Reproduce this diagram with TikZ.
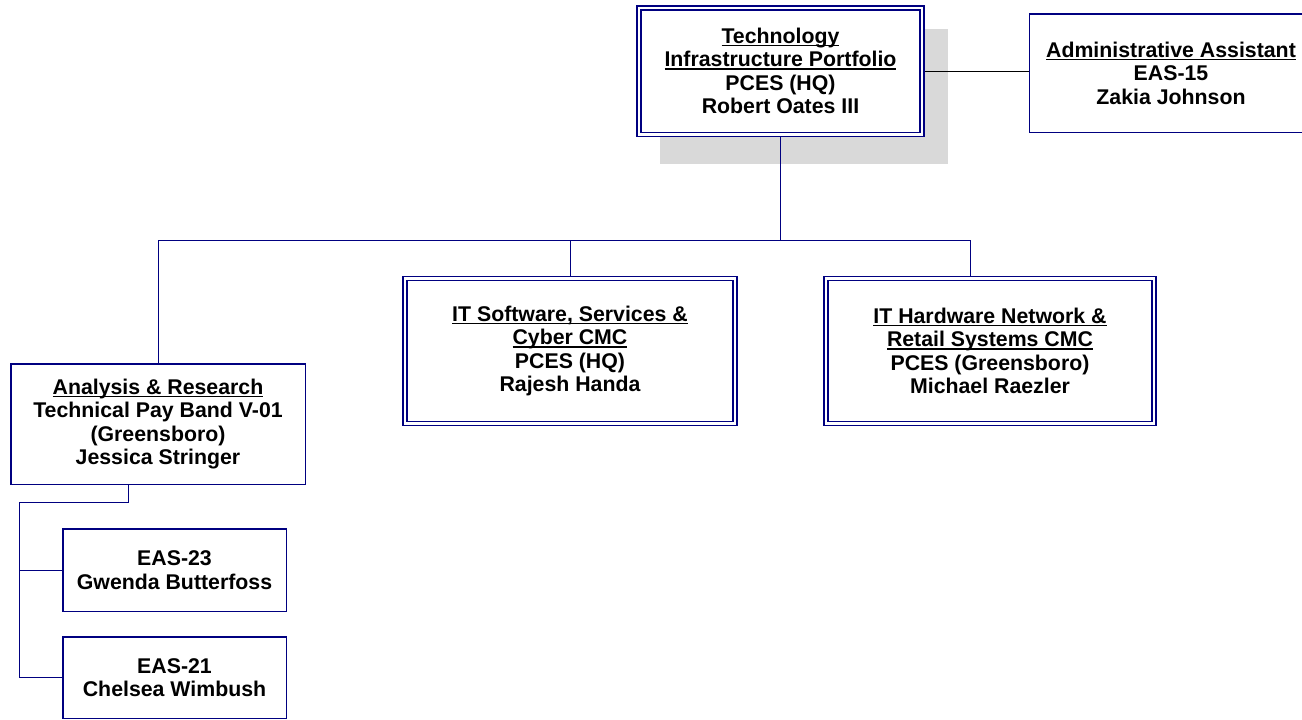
\documentclass[tikz,border=0pt]{standalone}
\usepackage{fontspec}
\setmainfont{Liberation Sans}
\usetikzlibrary{backgrounds}
\definecolor{unitblue}{RGB}{0,0,128}
\definecolor{dropgray}{RGB}{217,217,217}
\newsavebox{\titlebox}
\newcommand{\titleline}[1]{\sbox{\titlebox}{#1}\rlap{\rule[-2.8pt]{\wd\titlebox}{1.4pt}}\usebox{\titlebox}}

\begin{document}
\begin{tikzpicture}[x=1pt, y=-1pt, line width=1.5pt]
	\tikzset{
		unit/.style={rectangle, draw=unitblue, fill=white, inner sep=0pt, align=center,
			font=\fontsize{21.3}{23.5}\selectfont\bfseries},
		cmc/.style={unit, double=white, double distance=2.5pt},
		link/.style={draw=unitblue}
	}
	\useasboundingbox (0,0) rectangle (1302,720);
	% boxes
	\node[cmc, minimum width=283pt, minimum height=126.5pt] (tip) at (780.5,71)
		{\titleline{Technology}\\ \titleline{Infrastructure Portfolio}\\ PCES (HQ)\\ Robert Oates III};
	\node[unit, minimum width=283pt, minimum height=118.5pt] (aa) at (1171,73)
		{\titleline{Administrative Assistant}\\ EAS-15\\ Zakia Johnson};
	\node[cmc, minimum width=330pt, minimum height=145pt] (sw) at (570,351)
		{\titleline{IT Software, Services \&}\\ \titleline{Cyber CMC}\\ PCES (HQ)\\ Rajesh Handa};
	\node[cmc, minimum width=328pt, minimum height=145pt] (hw) at (990,351)
		{\titleline{IT Hardware Network \&}\\ \titleline{Retail Systems CMC}\\ PCES (Greensboro)\\ Michael Raezler};
	\node[unit, minimum width=294.5pt, minimum height=120.5pt] (ar) at (158,424)
		{\titleline{Analysis \& Research}\\ Technical Pay Band V-01\\ (Greensboro)\\ Jessica Stringer};
	\node[unit, minimum width=223.5pt, minimum height=82.5pt] (eas23) at (174.5,570)
		{EAS-23\\ Gwenda Butterfoss};
	\node[unit, minimum width=223.5pt, minimum height=81.5pt] (eas21) at (174.5,677.5)
		{EAS-21\\ Chelsea Wimbush};
	% shadow and lines
	\begin{pgfonlayer}{background}
		\fill[dropgray] (660,29) rectangle (948,164);
		\coordinate (bus) at (780.5,240);
		\coordinate (hwx) at (970,240);
		\coordinate (arx) at (128,485);
		\coordinate (spine) at (19,502);
		\draw (tip.east) -- (tip.east -| aa.west);
		\draw[link] (tip.south) -- (bus);
		\draw[link] (ar.north) |- (hwx) -- (hwx |- hw.north);
		\draw[link] (sw.north) -- (sw.north |- bus);
		\draw[link] (arx) |- (spine) |- (eas21.west);
		\draw[link] (spine |- eas23.west) -- (eas23.west);
	\end{pgfonlayer}
\end{tikzpicture}
\end{document}
